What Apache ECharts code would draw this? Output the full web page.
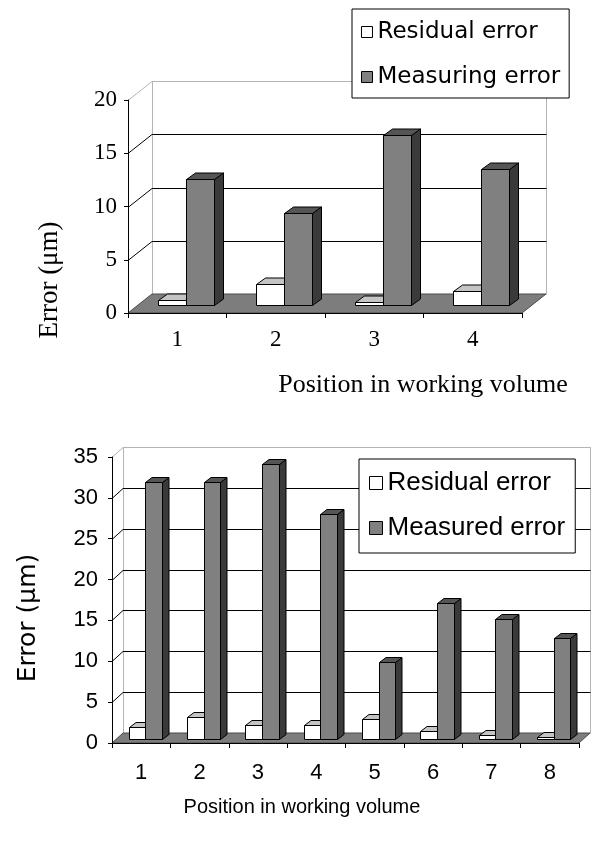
<!DOCTYPE html>
<html>
<head>
<meta charset="utf-8">
<script src="https://cdn.jsdelivr.net/npm/echarts@6/dist/echarts.min.js"></script>
<style>
  html, body { margin: 0; padding: 0; background: #fff; }
  #chart { width: 592px; height: 842px; }
</style>
</head>
<body>
<div id="chart"></div>
<script>
// Upper chart: residual vs measuring error per position
const topCategories = ['1', '2', '3', '4'];
const topResidual = [0.5, 2.0, 0.3, 1.3];
const topMeasuring = [11.8, 8.6, 16.0, 12.8];
const topTicks = [0, 5, 10, 15, 20];

// Lower chart: residual vs measured error per position
const bottomCategories = ['1', '2', '3', '4', '5', '6', '7', '8'];
const bottomResidual = [1.5, 2.7, 1.7, 1.7, 2.4, 1.0, 0.5, 0.2];
const bottomMeasured = [31.5, 31.5, 33.7, 27.5, 9.4, 16.6, 14.7, 12.3];
const bottomTicks = [0, 5, 10, 15, 20, 25, 30, 35];

const SERIF = '"Liberation Serif", "Times New Roman", serif';
const SANS = '"Liberation Sans", Arial, sans-serif';
const WIDE = '"DejaVu Sans", sans-serif';

// perspective settings: wall depth, bar plane offset, bar depth
const topDepth = { wx: 24, wy: 19, ox: 8.5, oy: 8, bx: 9, by: 6.5 };
const bottomDepth = { wx: 11, wy: 10, ox: 4, oy: 4, bx: 6.5, by: 5 };

const FACES_WHITE = { front: '#ffffff', top: '#c4c4c4', side: '#9a9a9a' };
const FACES_GREY = { front: '#808080', top: '#555555', side: '#3a3a3a' };

function toPairs(values) {
  return values.map((v, i) => [i, v]);
}

// walls, floor and gridlines behind the bars
function frameRenderer(d, maxVal) {
  return function (params, api) {
    const cs = params.coordSys;
    const L = cs.x, R = cs.x + cs.width, T = cs.y, B = cs.y + cs.height;
    const v = api.value(1);
    if (v === 0) {
      return {
        type: 'group',
        children: [
          {
            type: 'polygon',
            shape: { points: [[L, B], [L, T], [L + d.wx, T - d.wy], [L + d.wx, B - d.wy]] },
            style: { fill: '#ffffff', stroke: null }
          },
          {
            type: 'rect',
            shape: { x: L + d.wx + 0.5, y: T - d.wy + 0.5, width: cs.width, height: cs.height },
            style: { fill: '#ffffff', stroke: '#b4b4b4', lineWidth: 1 }
          },
          {
            type: 'polygon',
            shape: { points: [[L, B], [R, B], [R + d.wx, B - d.wy], [L + d.wx, B - d.wy]] },
            style: { fill: '#7d7d7d', stroke: '#4a4a4a', lineWidth: 1 }
          }
        ]
      };
    }
    const y = Math.round(api.coord([0, v])[1]) + 0.5;
    const isTop = v === maxVal;
    return {
      type: 'polyline',
      shape: { points: [[L, y], [L + d.wx, y - d.wy], [R + d.wx + 0.5, y - d.wy]] },
      style: { stroke: isTop ? '#b4b4b4' : '#000000', lineWidth: 1, fill: null }
    };
  };
}

// one 3-D column; slot 0 = left bar of the pair, slot 1 = right bar
function barRenderer(d, slot, faces) {
  return function (params, api) {
    const idx = api.value(0);
    const val = api.value(1);
    const band = api.size([1, 0])[0];
    const w = band / 3.5;
    const topPt = api.coord([idx, val]);
    const basePt = api.coord([idx, 0]);
    const x0 = Math.round(topPt[0] - w + slot * w + d.ox) + 0.5;
    const x1 = Math.round(topPt[0] - w + (slot + 1) * w + d.ox) + 0.5;
    const yT = Math.round(topPt[1] - d.oy) + 0.5;
    const yB = Math.round(basePt[1] - d.oy) + 0.5;
    const dx = d.bx, dy = d.by;
    const line = { stroke: '#000000', lineWidth: 1 };
    return {
      type: 'group',
      children: [
        {
          type: 'polygon',
          shape: { points: [[x1, yB], [x1, yT], [x1 + dx, yT - dy], [x1 + dx, yB - dy]] },
          style: Object.assign({ fill: faces.side }, line)
        },
        {
          type: 'polygon',
          shape: { points: [[x0, yT], [x1, yT], [x1 + dx, yT - dy], [x0 + dx, yT - dy]] },
          style: Object.assign({ fill: faces.top }, line)
        },
        {
          type: 'rect',
          shape: { x: x0, y: yT, width: x1 - x0, height: Math.max(yB - yT, 0) },
          style: Object.assign({ fill: faces.front }, line)
        }
      ]
    };
  };
}

function valueAxis(gridIndex, ticks, font, size, margin) {
  return {
    type: 'value',
    gridIndex: gridIndex,
    min: ticks[0],
    max: ticks[ticks.length - 1],
    interval: ticks[1] - ticks[0],
    z: 6,
    axisLine: { show: true, lineStyle: { color: '#000', width: 1 } },
    axisTick: { show: true, length: 4, lineStyle: { color: '#000' } },
    splitLine: { show: false },
    axisLabel: { color: '#000', fontFamily: font, fontSize: size, margin: margin }
  };
}

function categoryAxis(gridIndex, cats, font, size, margin) {
  return {
    type: 'category',
    gridIndex: gridIndex,
    data: cats,
    boundaryGap: true,
    z: 6,
    axisLine: { show: true, lineStyle: { color: '#000', width: 1 } },
    axisTick: { show: true, length: 5, lineStyle: { color: '#000' } },
    splitLine: { show: false },
    axisLabel: { color: '#000', fontFamily: font, fontSize: size, margin: margin }
  };
}

const option = {
  backgroundColor: '#ffffff',
  animation: false,
  grid: [
    { left: 128, top: 100, width: 394, height: 213 },
    { left: 112, top: 457, width: 467, height: 286 }
  ],
  xAxis: [
    categoryAxis(0, topCategories, SERIF, 23, 15),
    categoryAxis(1, bottomCategories, SANS, 22, 19)
  ],
  yAxis: [
    valueAxis(0, topTicks, SERIF, 23, 11),
    valueAxis(1, bottomTicks, SANS, 22, 14)
  ],
  legend: [
    {
      orient: 'vertical',
      left: 352,
      top: 9,
      padding: [11, 9, 9, 9],
      itemGap: 21,
      itemWidth: 11,
      itemHeight: 11,
      borderColor: '#000',
      borderWidth: 1,
      backgroundColor: '#fff',
      textStyle: { fontFamily: WIDE, fontSize: 23, lineHeight: 24, color: '#000' },
      data: [
        { name: 'Residual error', icon: 'rect', itemStyle: { color: '#fff', borderColor: '#000', borderWidth: 1 } },
        { name: 'Measuring error', icon: 'rect', itemStyle: { color: '#808080', borderColor: '#000', borderWidth: 1 } }
      ]
    },
    {
      orient: 'vertical',
      left: 359,
      top: 459,
      padding: [11, 10, 12, 10],
      itemGap: 19,
      itemWidth: 13,
      itemHeight: 13,
      borderColor: '#000',
      borderWidth: 1,
      backgroundColor: '#fff',
      textStyle: { fontFamily: SANS, fontSize: 26, lineHeight: 26, color: '#000' },
      data: [
        { name: 'Residual error ', icon: 'rect', itemStyle: { color: '#fff', borderColor: '#000', borderWidth: 1 } },
        { name: 'Measured error', icon: 'rect', itemStyle: { color: '#808080', borderColor: '#000', borderWidth: 1 } }
      ]
    }
  ],
  series: [
    {
      type: 'custom', name: 'frame-top', xAxisIndex: 0, yAxisIndex: 0, z: 1, silent: true,
      renderItem: frameRenderer(topDepth, topTicks[topTicks.length - 1]),
      encode: { x: 0, y: 1 },
      data: topTicks.map(t => [0, t])
    },
    {
      type: 'custom', name: 'Residual error', xAxisIndex: 0, yAxisIndex: 0, z: 2,
      itemStyle: { color: '#fff' },
      renderItem: barRenderer(topDepth, 0, FACES_WHITE),
      encode: { x: 0, y: 1 },
      data: toPairs(topResidual)
    },
    {
      type: 'custom', name: 'Measuring error', xAxisIndex: 0, yAxisIndex: 0, z: 3,
      itemStyle: { color: '#808080' },
      renderItem: barRenderer(topDepth, 1, FACES_GREY),
      encode: { x: 0, y: 1 },
      data: toPairs(topMeasuring)
    },
    {
      type: 'custom', name: 'frame-bottom', xAxisIndex: 1, yAxisIndex: 1, z: 1, silent: true,
      renderItem: frameRenderer(bottomDepth, bottomTicks[bottomTicks.length - 1]),
      encode: { x: 0, y: 1 },
      data: bottomTicks.map(t => [0, t])
    },
    {
      type: 'custom', name: 'Residual error ', xAxisIndex: 1, yAxisIndex: 1, z: 2,
      itemStyle: { color: '#fff' },
      renderItem: barRenderer(bottomDepth, 0, FACES_WHITE),
      encode: { x: 0, y: 1 },
      data: toPairs(bottomResidual)
    },
    {
      type: 'custom', name: 'Measured error', xAxisIndex: 1, yAxisIndex: 1, z: 3,
      itemStyle: { color: '#808080' },
      renderItem: barRenderer(bottomDepth, 1, FACES_GREY),
      encode: { x: 0, y: 1 },
      data: toPairs(bottomMeasured)
    }
  ],
  graphic: [
    {
      type: 'text', x: 50, y: 280, rotation: Math.PI / 2,
      style: { text: 'Error (μm)', font: '27px ' + SERIF, fill: '#000', align: 'center', verticalAlign: 'middle' }
    },
    {
      type: 'text', x: 423, y: 385,
      style: { text: 'Position in working volume', font: '26px ' + SERIF, fill: '#000', align: 'center', verticalAlign: 'middle' }
    },
    {
      type: 'text', x: 28, y: 618, rotation: Math.PI / 2,
      style: { text: 'Error (μm)', font: '25px ' + WIDE, fill: '#000', align: 'center', verticalAlign: 'middle' }
    },
    {
      type: 'text', x: 302, y: 807,
      style: { text: 'Position in working volume', font: '20px ' + SANS, fill: '#000', align: 'center', verticalAlign: 'middle' }
    }
  ]
};

const chart = echarts.init(document.getElementById('chart'), null, { renderer: 'canvas' });
chart.setOption(option);
</script>
</body>
</html>
